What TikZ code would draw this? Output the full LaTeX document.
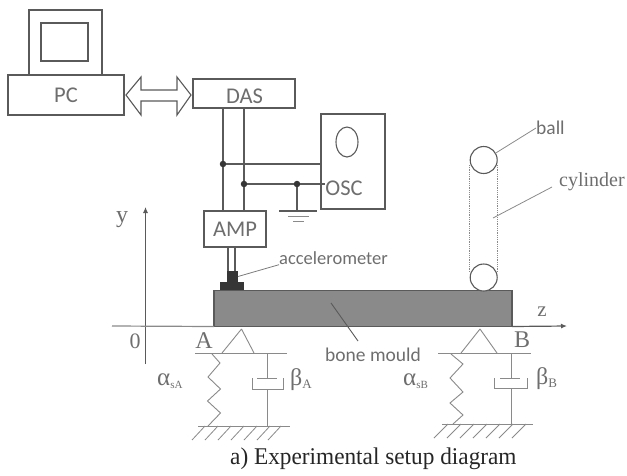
\documentclass[tikz,border=0pt]{standalone}
\usepackage{fontspec}
\setmainfont{Liberation Serif}
\newfontfamily\labelfont{Carlito}
\usetikzlibrary{arrows.meta,shapes.geometric}
\definecolor{ink}{HTML}{5A5A5A}
\definecolor{softink}{HTML}{8A8A8A}
\definecolor{labelgray}{HTML}{6E6E6E}
\definecolor{mouldfill}{HTML}{8A8A8A}
\tikzset{
  boxnode/.style={draw=ink,line width=1.1pt,fill=white,inner sep=0pt,outer sep=0pt,font=\labelfont\fontsize{22.5}{22}\selectfont,text=labelgray},
  wire/.style={draw=ink,line width=1.2pt},
  mech/.style={draw=softink,line width=0.9pt},
  leader/.style={draw=ink!80,line width=0.8pt},
  dotj/.style={circle,fill=ink!60!black,inner sep=0pt,minimum size=6.5pt},
  smalltxt/.style={font=\labelfont\fontsize{18.5}{18}\selectfont,text=labelgray,inner sep=0pt},
  sertxt/.style={font=\fontsize{24}{24}\selectfont,text=labelgray,inner sep=0pt},
  ball/.style={circle,draw=ink,line width=1.1pt,fill=white,minimum size=27pt,inner sep=0pt,outer sep=0pt},
}
\begin{document}
\begin{tikzpicture}[x=1pt,y=-1pt]
\useasboundingbox (0,0) rectangle (627,475);
% computer
\node[boxnode,minimum width=73pt,minimum height=65pt] (monitor) at (65.5,42.5) {};
\node[boxnode,minimum width=47pt,minimum height=38pt] (screen) at (64.5,42) {};
\node[boxnode,minimum width=116pt,minimum height=40pt] (pc) at (66,95) {PC};
\node[boxnode,minimum width=102pt,minimum height=29pt] (das) at (244,93.5) {};
\node[font=\labelfont\fontsize{22.5}{22}\selectfont,text=labelgray,inner sep=0pt] (dastxt) at (244.5,96.5) {DAS};
% double arrow
\coordinate (tipL) at (126,95);
\coordinate (tipR) at (191,95);
\draw[ink,line width=1.1pt,line join=miter,fill=white]
  (tipL) -- (141,77) -- (141,90) -- (177,90) -- (177,77) -- (tipR) -- (177,115) -- (177,101) -- (141,101) -- (141,115) -- cycle;
% OSC
\node[boxnode,minimum width=64pt,minimum height=95pt] (osc) at (353,161.5) {};
\node[draw=ink,line width=1.1pt,ellipse,minimum width=22pt,minimum height=30pt,inner sep=0pt] (oscEll) at (347,142) {};
\node[font=\labelfont\fontsize{22.5}{22}\selectfont,text=labelgray,inner sep=0pt] (osctxt) at (344,188) {OSC};
% AMP
\node[boxnode,minimum width=62pt,minimum height=36pt] (amp) at (235,229) {AMP};
% wires
\coordinate (dasA) at (223,108);
\coordinate (dasB) at (244,108);
\coordinate (ampA) at (223,211);
\coordinate (ampB) at (244,211);
\node[dotj] (j1) at (223,164) {};
\node[dotj] (j2) at (244,184) {};
\node[dotj] (j3) at (297,184) {};
\coordinate (oscA) at (321,164);
\coordinate (oscB) at (325,184);
\coordinate (gnd) at (297,211);
\draw[wire] (dasA) -- (j1) -- (ampA);
\draw[wire] (dasB) -- (j2) -- (ampB);
\draw[wire] (j1) -- (oscA);
\draw[wire] (j2) -- (j3) -- (oscB);
\draw[wire] (j3) -- (gnd);
\draw[wire] (279,211) -- (317,211);
\draw[softink,line width=1pt] (288,216) -- (309,216);
\draw[softink,line width=1pt] (293,221) -- (304,221);
% mould
\node[draw=ink,line width=1.2pt,fill=mouldfill,inner sep=0pt,outer sep=0pt,minimum width=298pt,minimum height=36pt] (mould) at (363,308.5) {};
% axes
\coordinate (yb) at (145.5,364);
\coordinate (yt) at (145.5,207);
\coordinate (zl) at (112,326);
\coordinate (zr) at (567,326);
\draw[ink,line width=1pt,-{Latex[length=6pt,width=5pt]}] (yb) -- (yt);
\draw[softink,line width=1.2pt] (zl) -- (mould.south west);
\draw[ink,line width=1.2pt,-{Latex[length=6pt,width=5pt]}] (mould.south east) -- (zr);
\node[sertxt] (ylab) at (122,220) {y};
\node[sertxt,font=\fontsize{21}{21}\selectfont] (zlab) at (542,312) {z};
\node[sertxt,font=\fontsize{22}{22}\selectfont] (zero) at (135,341) {0};
% accelerometer
\node[fill=ink!60!black,minimum width=24pt,minimum height=8pt,inner sep=0pt,outer sep=0pt] (acbase) at (232,286) {};
\node[fill=ink!60!black,minimum width=11pt,minimum height=11pt,inner sep=0pt,outer sep=0pt] (actop) at (232.5,276.5) {};
\coordinate (ampC) at (228,247);
\coordinate (ampD) at (235,247);
\draw[wire] (ampC) -- (228,271);
\draw[wire] (ampD) -- (235,271);
\node[smalltxt,anchor=west] (acctxt) at (279,258) {accelerometer};
\draw[leader] (actop.east) -- (acctxt.south west);
% balls and cylinder
\node[ball] (balltop) at (483.7,160) {};
\node[ball] (ballbot) at (483.7,277.5) {};
\draw[softink,line width=0.8pt,densely dotted] (469.5,165) -- (469.5,272);
\draw[softink,line width=0.8pt,densely dotted] (497,165) -- (497,272);
\node[smalltxt,anchor=west,font=\labelfont\fontsize{19.5}{19}\selectfont] (balltxt) at (536,128) {ball};
\draw[softink,line width=0.8pt] (balltop.30) -- (balltxt.west);
\node[sertxt,anchor=west,font=\fontsize{20}{20}\selectfont] (cyltxt) at (559,182) {cylinder};
\coordinate (cylpt) at (493,218);
\draw[softink,line width=0.8pt] (cylpt) -- (552,187);
% bone mould label
\node[smalltxt,anchor=west,font=\labelfont\fontsize{19.5}{19}\selectfont] (bonetxt) at (325,355) {bone mould};
\coordinate (mouldpt) at (331,303);
\draw[ink,line width=0.9pt] (mouldpt) -- (358,341);
% support A
\draw[mech] (241.5,329) -- (222,353) (241.5,329) -- (254,353);
\draw[mech] (195,353) -- (287,353);
\draw[mech] (212,354) -- (220,363) -- (208,377) -- (220.5,389) -- (207.5,401) -- (220.5,413) -- (208,426);
\draw[mech] (198,426) -- (290,426);
\draw[mech] (267,353) -- (267,378) (257,378) -- (277,378);
\draw[mech] (252,378) -- (252,389) -- (283,389) -- (283,378) (267,389) -- (267,426);
\foreach \hx in {205,218,231,244,257,270,281}{\draw[softink,line width=0.8pt] (\hx,426) -- (\hx-13,440);}
\node[sertxt] (labA) at (204,341) {A};
\node[sertxt,anchor=west,font=\fontsize{25}{25}\selectfont] (aA) at (157,381) {α\raisebox{-3pt}{\fontsize{11}{11}\selectfont sA}};
\node[sertxt,anchor=west] (bA) at (290,380) {β\raisebox{-3pt}{\fontsize{13}{13}\selectfont A}};
% support B
\draw[mech] (480,329) -- (461,353) (480,329) -- (497,353);
\draw[mech] (438,353) -- (531,353);
\draw[mech] (451,354) -- (463,364) -- (450,378) -- (463,392) -- (450,403) -- (463,415) -- (453,424);
\draw[mech] (442,424) -- (533,424);
\draw[mech] (511,353) -- (511,378) (500,378) -- (520,378);
\draw[mech] (494,378) -- (494,388) -- (527,388) -- (527,378) (511,388) -- (511,424);
\foreach \hx in {448,461,474,487,500,513,526}{\draw[softink,line width=0.8pt] (\hx,424) -- (\hx-14,438);}
\node[sertxt] (labB) at (522,340) {B};
\node[sertxt,anchor=west,font=\fontsize{25}{25}\selectfont] (aB) at (403,381) {α\raisebox{-3pt}{\fontsize{11}{11}\selectfont sB}};
\node[sertxt,anchor=west] (bB) at (536,379) {β\raisebox{-3pt}{\fontsize{13}{13}\selectfont B}};
% caption
\node[font=\fontsize{24}{24}\selectfont,text=black!85,inner sep=0pt,anchor=west] (cap) at (230,459) {\addfontfeatures{FakeStretch=0.97}a) Experimental setup diagram};
\end{tikzpicture}
\end{document}
